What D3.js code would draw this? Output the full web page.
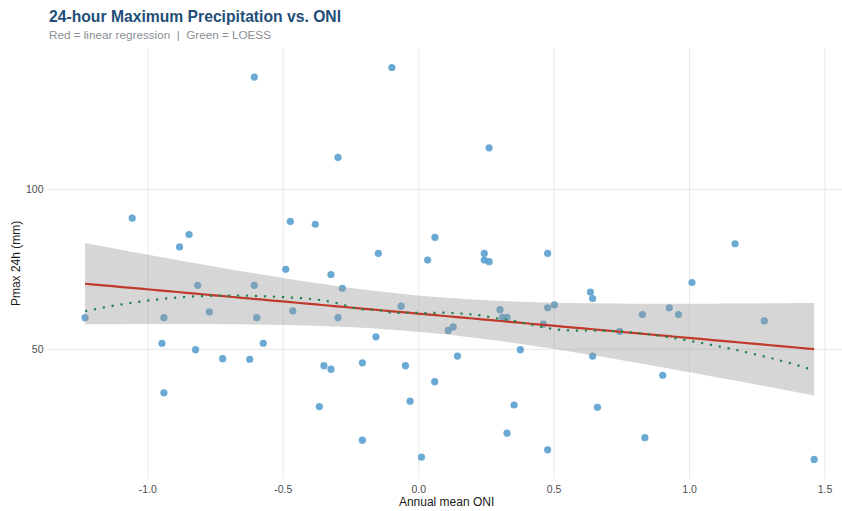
<!DOCTYPE html>
<html><head><meta charset="utf-8">
<script src="https://cdn.jsdelivr.net/npm/d3@7"></script>
<style>body{margin:0;background:#fff}svg{display:block;font-family:"Liberation Sans",Arial,sans-serif}</style>
</head><body><svg id="c" width="842" height="511"></svg>
<script>
const oni = [-0.607,-1.058,-0.848,-0.474,-0.382,-0.099,-0.298,0.260,0.060,
 -1.232,-0.883,-0.816,-0.607,-0.941,-0.773,-0.598,-0.491,-0.465,-0.948,-0.824,-0.574,-0.724,-0.624,-0.941,-0.367,
 -0.149,0.033,0.242,0.242,0.260,0.476,-0.324,-0.282,-0.065,-0.298,0.300,0.309,0.326,0.476,0.501,0.460,0.127,0.109,-0.158,0.375,0.143,-0.350,-0.324,-0.208,-0.049,0.059,-0.032,0.352,-0.208,0.326,0.010,0.476,
 1.168,1.009,0.634,0.642,0.826,0.925,0.959,1.276,0.742,0.642,0.901,0.660,0.835,1.460];
const pmax = [135.1,91.0,85.9,90.0,89.1,138.1,110.0,113.0,85.0,
 59.9,82.0,70.0,70.0,59.9,61.7,59.9,75.0,62.0,51.9,49.9,51.9,47.1,46.9,36.4,32.1,
 80.0,77.9,80.0,77.9,77.4,80.0,73.4,69.1,63.5,59.9,62.4,60.0,60.0,63.0,63.9,57.9,57.0,55.9,53.9,49.9,47.9,44.9,43.8,45.8,44.9,39.9,33.8,32.6,21.6,23.8,16.3,18.6,
 83.0,70.9,67.9,65.9,60.9,63.0,60.9,58.9,55.6,47.9,41.9,31.9,22.4,15.6];
const xTicks = [-1.0,-0.5,0.0,0.5,1.0,1.5];
const xTickLabels = ["-1.0","-0.5","0.0","0.5","1.0","1.5"];
const yTicks = [50,100];
const yTickLabels = ["50","100"];
const titleText = "24-hour Maximum Precipitation vs. ONI";
const subtitleText = "Red = linear regression  |  Green = LOESS";
const xLabel = "Annual mean ONI";
const yLabel = "Pmax 24h (mm)";

const data = oni.map((x,i)=>({x, y:pmax[i]}));
const n = data.length;
const xmin = d3.min(oni), xmax = d3.max(oni);
const ymin = d3.min(pmax), ymax = d3.max(pmax);
const xr = xmax-xmin, yr = ymax-ymin;

const svg = d3.select("#c");
const L = 48.6, R = 850.6, T = 47.9, B = 479;
const x = d3.scaleLinear().domain([xmin-0.05*xr, xmax+0.05*xr]).range([L,R]);
const y = d3.scaleLinear().domain([ymin-0.05*yr, ymax+0.05*yr]).range([B,T]);

// grid
svg.append("g").selectAll("line").data(xTicks).join("line")
  .attr("x1",d=>x(d)).attr("x2",d=>x(d)).attr("y1",T).attr("y2",B)
  .attr("stroke","#ebebeb").attr("stroke-width",1.1);
svg.append("g").selectAll("line").data(yTicks).join("line")
  .attr("x1",L).attr("x2",R).attr("y1",d=>y(d)).attr("y2",d=>y(d))
  .attr("stroke","#ebebeb").attr("stroke-width",1.1);

// points
svg.append("g").selectAll("circle").data(data).join("circle")
  .attr("cx",d=>x(d.x)).attr("cy",d=>y(d.y)).attr("r",3.6)
  .attr("fill","#4f9acb").attr("fill-opacity",0.85);

// linear regression
const xbar = d3.mean(oni), ybar = d3.mean(pmax);
let sxx=0, sxy=0;
data.forEach(d=>{sxx+=(d.x-xbar)**2; sxy+=(d.x-xbar)*(d.y-ybar);});
const b1 = sxy/sxx, b0 = ybar-b1*xbar;
let sse=0; data.forEach(d=>{sse+=(d.y-b0-b1*d.x)**2;});
const s = Math.sqrt(sse/(n-2));
const tq = 1.9949;
const grid = d3.range(80).map(i=>xmin+i*(xmax-xmin)/79);
const lm = grid.map(g=>{
  const f=b0+b1*g, se=s*Math.sqrt(1/n+(g-xbar)**2/sxx);
  return {x:g, y:f, lo:f-tq*se, hi:f+tq*se};
});

// loess (span .75, degree 2)
function loessAt(x0){
  const q = Math.floor(0.75*n);
  const ds = data.map(d=>Math.abs(d.x-x0)).sort((a,b)=>a-b);
  const h = ds[q-1]*1.0000001;
  let S=[[0,0,0],[0,0,0],[0,0,0]], V=[0,0,0];
  data.forEach(d=>{
    const u=Math.abs(d.x-x0)/h; if(u>=1) return;
    const w=Math.pow(1-u*u*u,3);
    const t=d.x-x0, p=[1,t,t*t];
    for(let i=0;i<3;i++){V[i]+=w*p[i]*d.y; for(let j=0;j<3;j++) S[i][j]+=w*p[i]*p[j];}
  });
  const A=S.map((r,i)=>r.concat([V[i]]));
  for(let i=0;i<3;i++){
    let m=i; for(let k=i+1;k<3;k++) if(Math.abs(A[k][i])>Math.abs(A[m][i])) m=k;
    [A[i],A[m]]=[A[m],A[i]];
    for(let k=i+1;k<3;k++){const f=A[k][i]/A[i][i]; for(let j=i;j<4;j++) A[k][j]-=f*A[i][j];}
  }
  const sol=[0,0,0];
  for(let i=2;i>=0;i--){let v=A[i][3]; for(let j=i+1;j<3;j++) v-=A[i][j]*sol[j]; sol[i]=v/A[i][i];}
  return sol[0];
}
const lo = grid.map(g=>({x:g, y:loessAt(g)}));

svg.append("path").datum(lm)
  .attr("d", d3.area().x(d=>x(d.x)).y0(d=>y(d.lo)).y1(d=>y(d.hi)))
  .attr("fill","#999999").attr("fill-opacity",0.4);
svg.append("path").datum(lm)
  .attr("d", d3.line().x(d=>x(d.x)).y(d=>y(d.y)))
  .attr("fill","none").attr("stroke","#c0392b").attr("stroke-width",2.2);
svg.append("path").datum(lo)
  .attr("d", d3.line().x(d=>x(d.x)).y(d=>y(d.y)))
  .attr("fill","none").attr("stroke","#1e8449").attr("stroke-width",2.2)
  .attr("stroke-dasharray","2.2,6.8");

// axes labels
svg.append("g").selectAll("text").data(xTicks).join("text")
  .attr("x",d=>x(d)).attr("y",493).attr("text-anchor","middle")
  .attr("font-size",10.5).attr("fill","#4d4d4d").text((d,i)=>xTickLabels[i]);
svg.append("g").selectAll("text").data(yTicks).join("text")
  .attr("x",43.5).attr("y",d=>y(d)+3.8).attr("text-anchor","end")
  .attr("font-size",10.5).attr("fill","#4d4d4d").text((d,i)=>yTickLabels[i]);
svg.append("text").attr("x",(L+R)/2 - 3).attr("y",506).attr("text-anchor","middle")
  .attr("font-size",12).attr("fill","#1a1a1a").text(xLabel);
svg.append("text").attr("transform",`translate(20,${(T+B)/2}) rotate(-90)`)
  .attr("text-anchor","middle").attr("font-size",12).attr("fill","#1a1a1a").text(yLabel);

svg.append("text").attr("x",49).attr("y",22).attr("font-size",15.7).attr("font-weight","bold")
  .attr("fill","#1f4e79").text(titleText);
svg.append("text").attr("x",49).attr("y",39).attr("font-size",11.7).attr("fill","#8a8f94")
  .style("white-space","pre").attr("xml:space","preserve").text(subtitleText);
</script></body></html>
